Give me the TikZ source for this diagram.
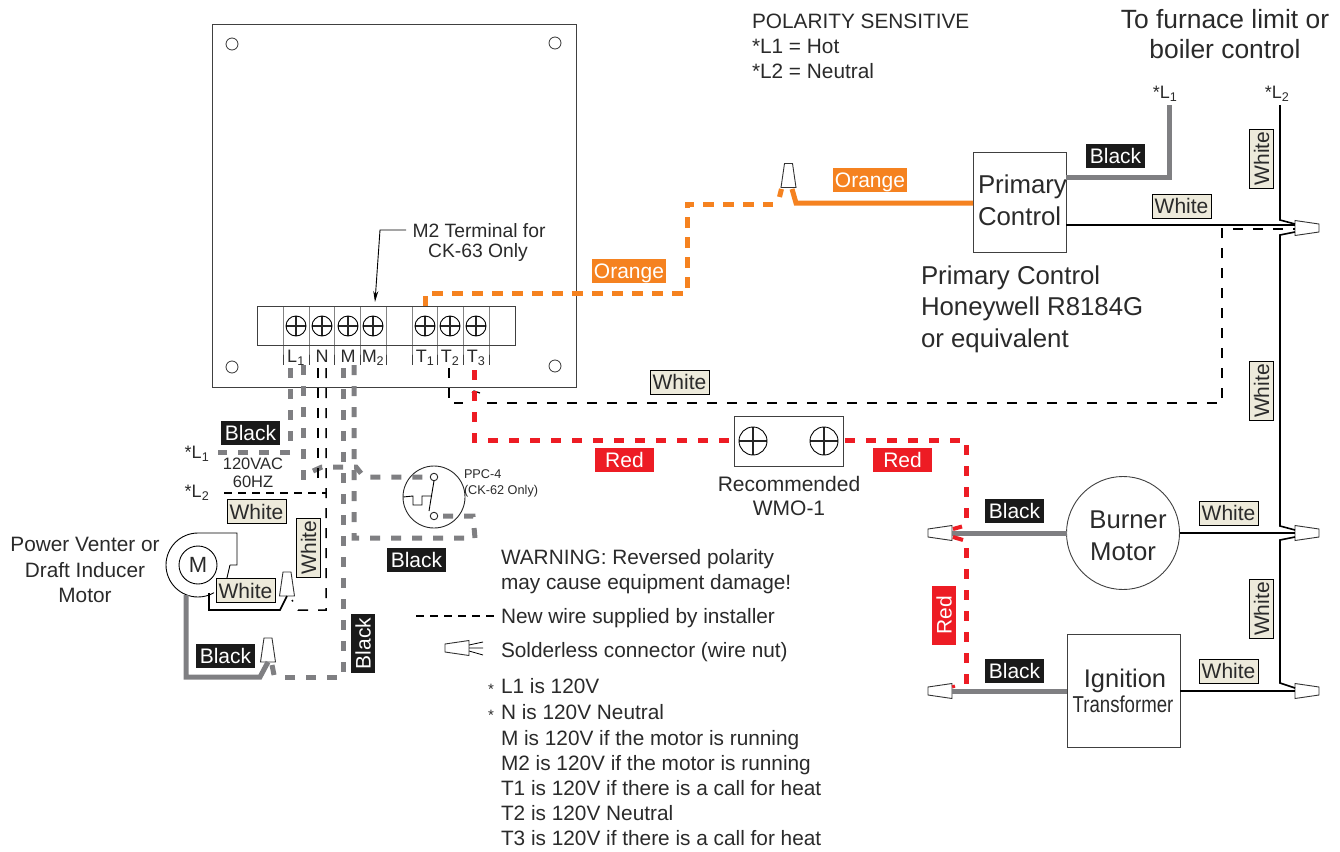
\documentclass[tikz,border=0pt]{standalone}
\usepackage{fontspec}
\setmainfont{Liberation Sans}
\usetikzlibrary{arrows.meta}
\definecolor{wgrey}{HTML}{7F7F82}
\definecolor{worange}{HTML}{F58220}
\definecolor{wred}{HTML}{ED1C24}
\definecolor{lblack}{HTML}{1A1A1A}
\definecolor{lwhite}{HTML}{EDEADB}
\definecolor{tgrey}{HTML}{2A2A2A}
\tikzset{
  fs/.style={font=\fontsize{#1}{#1}\selectfont},
  txt/.style={fs=#1,text=tgrey,inner sep=0pt,outer sep=0pt,text height=.72*#1pt,text depth=0pt},
  ltxt/.style={txt=#1,anchor=west},
  lab/.style={minimum width=59pt,minimum height=24pt,inner sep=0pt,outer sep=0pt,fs=21,text height=15pt,text depth=0pt},
  blk/.style={lab,fill=lblack,text=white},
  wht/.style={lab,fill=lwhite,draw=black,line width=.9pt,text=tgrey},
  org/.style={lab,fill=worange,text=white,minimum width=74pt},
  rdl/.style={lab,fill=wred,text=white},
  outline/.style={draw=black!75,line width=.9pt},
  hole/.style={circle,draw=black!80,line width=.8pt,minimum size=12pt,inner sep=0pt},
  screw/.style={circle,draw=black,line width=.9pt,minimum size=#1,inner sep=0pt,outer sep=0pt,
    path picture={\draw[line width=1.2pt,black!85] (path picture bounding box.north)--(path picture bounding box.south)
      (path picture bounding box.west)--(path picture bounding box.east);}},
  gsolid/.style={draw=wgrey,line width=5pt},
  gdash/.style={draw=wgrey,line width=5pt,dash pattern=on 10pt off 11pt},
  odash/.style={draw=worange,line width=5pt,dash pattern=on 11pt off 9pt},
  rdash/.style={draw=wred,line width=5pt,dash pattern=on 10pt off 11pt},
  kthin/.style={draw=black,line width=1.6pt},
  kdash/.style={draw=black,line width=1.5pt,dash pattern=on 10pt off 10pt},
  nut/.pic={\draw[draw=black!80,fill=white,line width=.9pt] (-12,-7.5)--(12,-4)--(12,4)--(-12,7.5)--cycle;
    \coordinate (-wide) at (-12,0); \coordinate (-narrow) at (12,0);
    \coordinate (-wa) at (-12,-4); \coordinate (-wb) at (-12,4);}
}
\begin{document}
\begin{tikzpicture}[x=1pt,y=-1pt]
\useasboundingbox (0,0) rectangle (1340,851);
% control box
\node[outline,draw,minimum width=364pt,minimum height=363pt,inner sep=0pt,outer sep=0pt] (board) at (394,205.5) {};
\node[hole] (h1) at (232,44) {}; \node[hole] (h2) at (555,43) {};
\node[hole] (h3) at (232,367) {}; \node[hole] (h4) at (555,366) {};
% terminal strip
\node[outline,draw,minimum width=258pt,minimum height=39pt,inner sep=0pt,outer sep=0pt] (strip) at (386,325.5) {};
\foreach \x/\n in {283/a,309/b,334/c,360/d,386/e,412/f,437/g,463/h,489/i}{
  \coordinate (dt\n) at (\x,306); \coordinate (db\n) at (\x,365);
  \draw[outline] (dt\n)--(\x,345)--(db\n);}
\foreach \x/\n in {296/L,322/N,348/M,373/Mb,425/Ta,450/Tb,476/Tc}{
  \node[screw=20pt] (s\n) at (\x,326) {};}
\node[txt=18] (tL) at (296,356) {L\textsubscript{1}};
\node[txt=18] (tN) at (322,356) {N};
\node[txt=18] (tM) at (348,356) {M};
\node[txt=18] (tMb) at (373,356) {M\textsubscript{2}};
\node[txt=18] (tTa) at (425,356) {T\textsubscript{1}};
\node[txt=18] (tTb) at (450,356) {T\textsubscript{2}};
\node[txt=18] (tTc) at (476,356) {T\textsubscript{3}};
% M2 arrow
\node[txt=19.3] (m2note) at (479,231) {M2 Terminal for};
\node[txt=19.3] (m2noteb) at (478,251) {CK-63 Only};
\coordinate (m2a) at (406,230); \coordinate (m2b) at (380,230); \coordinate (m2c) at (375,302);
\draw[black,line width=.9pt,-{Stealth[length=11pt,width=5pt]}] (m2a)--(m2b)--(m2c);
% top text
\node[ltxt=20.8] (pol1) at (752,21) {POLARITY SENSITIVE};
\node[ltxt=20.8] (pol2) at (752,46) {*L1 = Hot};
\node[ltxt=20.8] (pol3) at (752,71) {*L2 = Neutral};
\node[txt=26.4] (furn) at (1225,19) {To furnace limit or};
\node[txt=26.4] (furnb) at (1225,49) {boiler control};
\node[txt=18] (tl1) at (1165,92) {*L\textsubscript{1}};
\node[txt=18] (tl2) at (1277,92) {*L\textsubscript{2}};
% primary control
\node[outline,draw,minimum width=93pt,minimum height=100pt,inner sep=0pt,outer sep=0pt] (prim) at (1019.5,202) {};
\node[ltxt=25.8] (pa1) at (978,184) {Primary};
\node[ltxt=25.8] (pa2) at (978,216) {Control};
\node[ltxt=25.8] (pc1) at (921,275) {Primary Control};
\node[ltxt=25.8] (pc2) at (921,306) {Honeywell R8184G};
\node[ltxt=25.8] (pc3) at (921,338) {or equivalent};
% burner, ignition
\node[circle,outline,draw,minimum size=113pt,inner sep=0pt,outer sep=0pt] (burner) at (1123,533) {};
\node[txt=25.7] (bt1) at (1128,519) {Burner};
\node[txt=25.7] (bt2) at (1123,551) {Motor};
\node[outline,draw,minimum width=113pt,minimum height=113pt,inner sep=0pt,outer sep=0pt] (ign) at (1123.5,690.5) {};
\node[txt=25.5] (it1) at (1125,678) {Ignition};
\node[txt=23,xscale=.81] (it2) at (1123,704) {Transformer};
% WMO
\node[outline,draw,minimum width=109pt,minimum height=50pt,inner sep=0pt,outer sep=0pt] (wmo) at (788.5,441) {};
\node[screw=28pt] (w1) at (753,441) {}; \node[screw=28pt] (w2) at (824,441) {};
\node[txt=21] (wt1) at (789,484) {Recommended};
\node[txt=21] (wt2) at (789,508) {WMO-1};
% nuts
\pic (nA) at (1307,228) {nut};
\pic (nB) at (1307,533) {nut};
\pic (nC) at (1307,691) {nut};
\pic[rotate=180] (nD) at (940,533) {nut};
\pic[rotate=180] (nE) at (940,691) {nut};
\pic[rotate=90] (nF) at (788.5,175.5) {nut};
\pic[rotate=90] (nG) at (287,584) {nut};
\pic[rotate=90] (nH) at (268,650) {nut};
% orange
\coordinate (o0) at (425,306); \coordinate (o00) at (425,296);
\coordinate (o1) at (432,293); \coordinate (o2) at (687,293); \coordinate (o3) at (687,204); \coordinate (o4) at (773,204);
\draw[draw=worange,line width=5pt] (o0)--(o00);
\draw[odash] (o1)--(o2)--(o3)--(o4);
\draw[draw=worange,line width=5pt] (781.5,189)--(779.5,197);
\coordinate (o5) at (792,189); \coordinate (o6) at (796,203);
\draw[draw=worange,line width=5pt] (o5)--(o6)--(prim.west|-o6);
% primary wires
\coordinate (pb1) at (1169,177); \coordinate (pb2) at (1169,105);
\draw[gsolid] (prim.east|-pb1)--(pb1)--(pb2);
\draw[kthin] (prim.east|-1200,225)--(1295,225);
\coordinate (tw00) at (449,368); \coordinate (tw0) at (449,403); \coordinate (tw0a) at (463,403); \coordinate (tw0b) at (487,403);
\coordinate (tw1) at (1222,403); \coordinate (tw2) at (1222,229); \coordinate (tw3) at (1295,229);
\draw[kdash] (tw00)--(tw0)--(tw0a);
\draw[kdash] (tw0b)--(tw1)--(tw2)--(tw3);
\draw[kthin,line width=1.2pt] (472,393)--(474,391)--(480,393);
% L2 neutral chain
\coordinate (n0) at (1280,105); \coordinate (n1) at (1280,220); \coordinate (n2) at (1280,235);
\coordinate (n3) at (1280,526); \coordinate (n4) at (1280,540); \coordinate (n5) at (1280,683);
\draw[kthin] (n0)--(n1)--(1295,224);
\draw[kthin] (1295,232)--(n2)--(n3)--(1295,530);
\draw[kthin] (1295,537)--(n4)--(n5)--(1295,688);
\draw[kthin] (burner.east)--(nB-wide);
\draw[kthin] (ign.east|-nC-wide)--(nC-wide);
\draw[gsolid] (nD-wide)--(burner.west);
\draw[gsolid] (nE-wide)--(ign.west|-nE-wide);
% red
\coordinate (r0) at (474,370); \coordinate (r1) at (474,440); \coordinate (r1b) at (731,440);
\coordinate (r1c) at (845,440); \coordinate (r2) at (966,440); \coordinate (r3) at (966,518);
\coordinate (r4a) at (953,529); \coordinate (r4) at (962,526.5);
\coordinate (r5) at (953,537); \coordinate (r6) at (963,540); \coordinate (r7) at (966,548); \coordinate (r8) at (966,685);
\draw[rdash] (r0)--(r1)--(r1b);
\draw[rdash] (r1c)--(r2)--(r3);
\draw[draw=wred,line width=4pt] (r4a)--(r4);
\draw[draw=wred,line width=4pt] (r5)--(r6);
\draw[rdash] (r7)--(r8);
\draw[draw=wred,line width=3pt] (953,685)--(954,688);
% left side wires
\coordinate (la1) at (290,368); \coordinate (la2) at (290,452); \coordinate (la3) at (218,452);
\draw[gdash] (la1)--(la2)--(la3);
\coordinate (lb1) at (303,365); \coordinate (lb2) at (303,480);
\draw[gdash] (lb1)--(lb2);
\coordinate (p1) at (313,471); \coordinate (p2) at (322,467); \coordinate (p3) at (356,467); \coordinate (p4) at (364,477); \coordinate (p5) at (425,477);
\node[circle,draw=black!85,line width=.9pt,minimum size=62pt,inner sep=0pt,outer sep=0pt] (ppc) at (434,497) {};
\node[circle,draw=black!85,line width=.9pt,fill=white,minimum size=7.5pt,inner sep=0pt,outer sep=0pt] (pa) at (434,477) {};
\node[circle,draw=black!85,line width=.9pt,fill=white,minimum size=7.5pt,inner sep=0pt,outer sep=0pt] (pb) at (434,516) {};
\draw[gdash] (p1)--(p2)--(p3)--(p4)--(p5);
\draw[black,line width=.9pt] (pa.south)--(429,511);
\draw[black,line width=.9pt] (ppc.west)--(413,496)--(413,505)--(422,505)--(422,496)--(432,496);
\node[ltxt=12.7] (pt1) at (464,474) {PPC-4};
\node[ltxt=12.7] (pt2) at (464,490) {(CK-62 Only)};
\coordinate (na1) at (318,368); \coordinate (na2) at (318,482);
\draw[kdash] (na1)--(na2);
\coordinate (nb1) at (326,368); \coordinate (nb2) at (326,610); \coordinate (nb3) at (298,610); \coordinate (nb4) at (292,600);
\draw[kdash] (nb1)--(nb2)--(nb3)--(nb4);
\coordinate (l2a) at (224,493); \coordinate (l2b) at (326,493);
\draw[kdash,dash pattern=on 8pt off 6pt] (l2a)--(l2b);
\coordinate (ma1) at (343,368); \coordinate (ma2) at (343,677); \coordinate (ma3) at (285,677);
\coordinate (ma4) at (272,665); \coordinate (ma5) at (274,675);
\draw[gdash] (ma1)--(ma2)--(ma3);
\draw[draw=wgrey,line width=5pt] (ma4)--(ma5);
\coordinate (mb1) at (354,365); \coordinate (mb2) at (354,538); \coordinate (mb3) at (475,538); \coordinate (mb4) at (473,516);
\draw[gdash] (mb1)--(mb2)--(mb3)--(mb4)--(pb.east);
% blower
\node[circle,draw=black,line width=.9pt,minimum size=38pt,txt=22] (mot) at (198,565) {M};
\coordinate (bl1) at (237,533); \coordinate (bl2) at (237,565); \coordinate (bl3) at (230,565);
\draw[black,line width=.9pt] (bl3) -- (bl2) -- (bl1) -- (198,533) arc[start angle=-90,end angle=-300,radius=32];
\draw[black,line width=.9pt] (bl3)--(226,582);
% motor wires
\coordinate (wm1) at (209,593); \coordinate (wm2) at (209,610); \coordinate (wm3) at (280,610);
\draw[kthin] (wm1)--(wm2)--(wm3)--(nG-wide);
\coordinate (gm1) at (186,595); \coordinate (gm2) at (186,677); \coordinate (gm3) at (260,677);
\draw[gsolid] (gm1)--(gm2)--(gm3)--(nH-wide);
% text left
\node[txt=16.5] (vac1) at (253,464) {120VAC};
\node[txt=16.5] (vac2) at (253,482) {60HZ};
\node[txt=18] (ll1) at (197,452) {*L\textsubscript{1}};
\node[txt=18] (ll2) at (197,491) {*L\textsubscript{2}};
\node[txt=20.8] (pv1) at (85,544) {Power Venter or};
\node[txt=20.8] (pv2) at (85,570) {Draft Inducer};
\node[txt=20.8] (pv3) at (85,595) {Motor};
% legend
\node[ltxt=20.8] (wa1) at (501,557) {WARNING: Reversed polarity};
\node[ltxt=20.8] (wa2) at (501,582) {may cause equipment damage!};
\coordinate (lg1) at (416,616); \coordinate (lg2) at (494,616);
\draw[black,line width=1.5pt,dash pattern=on 8pt off 6pt] (lg1)--(lg2);
\node[ltxt=20.8] (lt1) at (501,616) {New wire supplied by installer};
\pic[rotate=180] (nL) at (457,648) {nut};
\draw[black,line width=.8pt] (469,645)--(483,642) (469,648)--(483,648) (469,651)--(483,655);
\node[ltxt=20.8] (lt2) at (501,650) {Solderless connector (wire nut)};
\node[txt=15] (st1) at (491,689) {*};
\node[txt=15] (st2) at (491,715) {*};
\node[ltxt=20.8] (nt1) at (501,686) {L1 is 120V};
\node[ltxt=20.8] (nt2) at (501,712) {N is 120V Neutral};
\node[ltxt=20.8] (nt3) at (501,738) {M is 120V if the motor is running};
\node[ltxt=20.8] (nt4) at (501,763) {M2 is 120V if the motor is running};
\node[ltxt=20.8] (nt5) at (501,788) {T1 is 120V if there is a call for heat};
\node[ltxt=20.8] (nt6) at (501,813) {T2 is 120V Neutral};
\node[ltxt=20.8] (nt7) at (501,838) {T3 is 120V if there is a call for heat};
% labels
\node[org] (l01) at (629,271) {Orange};
\node[org] (l02) at (870,180) {Orange};
\node[blk] (l03) at (1115.5,156) {Black};
\node[wht] (l04) at (1181.5,206) {White};
\node[wht,rotate=90] (l05) at (1261.5,158.5) {White};
\node[wht,rotate=90] (l06) at (1261.5,391) {White};
\node[wht,rotate=90] (l07) at (1261.5,609) {White};
\node[wht] (l08) at (679.5,382) {White};
\node[rdl] (l09) at (624.5,460) {Red};
\node[rdl] (l10) at (902.5,460) {Red};
\node[rdl,rotate=90] (l11) at (944,615.5) {Red};
\node[blk] (l12) at (1014.5,511) {Black};
\node[blk] (l13) at (1014.5,671) {Black};
\node[wht] (l14) at (1228.5,513) {White};
\node[wht] (l15) at (1228.5,671) {White};
\node[blk] (l16) at (250.5,433) {Black};
\node[wht] (l17) at (256.5,511.5) {White};
\node[wht,rotate=90] (l18) at (308.5,547.5) {White};
\node[wht] (l19) at (245.5,590.5) {White};
\node[blk] (l20) at (225.5,656) {Black};
\node[blk,rotate=90] (l21) at (363,643.5) {Black};
\node[blk] (l22) at (416.5,560) {Black};
\end{tikzpicture}
\end{document}
